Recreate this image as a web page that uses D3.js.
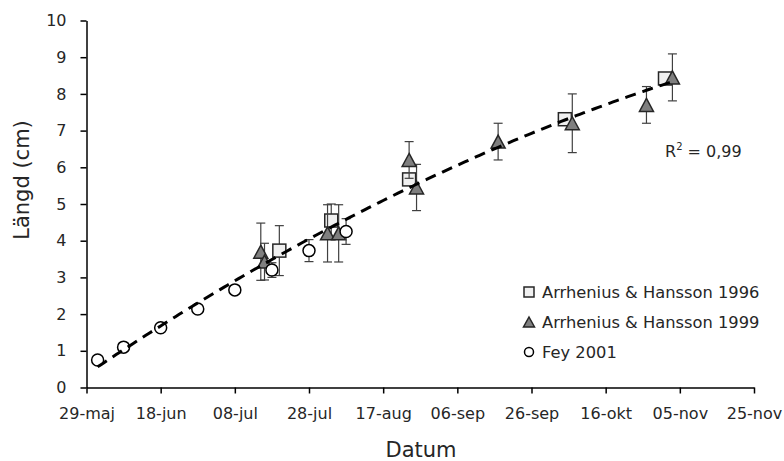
<!DOCTYPE html>
<html>
<head>
<meta charset="utf-8">
<script src="https://cdn.jsdelivr.net/npm/d3@7"></script>
<style>
    body { margin: 0; background: #fff; }
    svg { display: block; font-family: 'DejaVu Sans', sans-serif; }
    .tick text { font-family: 'DejaVu Sans', sans-serif; font-size: 16px; fill: #262626; }
    .axis-title { font-size: 21px; fill: #262626; }
    .legend text { font-size: 16.3px; fill: #262626; }
</style>
</head>
<body>
<svg id="chart"></svg>
<script>
var monthNames = ['jan', 'feb', 'mar', 'apr', 'maj', 'jun', 'jul', 'aug', 'sep', 'okt', 'nov', 'dec'];
var xTicks = ['2001-05-29', '2001-06-18', '2001-07-08', '2001-07-28', '2001-08-17', '2001-09-06', '2001-09-26', '2001-10-16', '2001-11-05', '2001-11-25'];
var yTicks = [0, 1, 2, 3, 4, 5, 6, 7, 8, 9, 10];

// Arrhenius & Hansson 1996
var ah96Dates = ['2001-07-20', '2001-08-03', '2001-08-24', '2001-10-05', '2001-11-01'];
var ah96Values = [3.73, 4.55, 5.67, 7.31, 8.42];
var ah96Errors = [0.68, 0.45, 0, 0, 0];

// Arrhenius & Hansson 1999
var ah99Dates = ['2001-07-15', '2001-07-16', '2001-08-02', '2001-08-05', '2001-08-24', '2001-08-26', '2001-09-17', '2001-10-07', '2001-10-27', '2001-11-03'];
var ah99Values = [3.7, 3.43, 4.2, 4.2, 6.2, 5.45, 6.7, 7.2, 7.7, 8.45];
var ah99Errors = [0.78, 0.5, 0.78, 0.78, 0.5, 0.63, 0.5, 0.8, 0.5, 0.64];

// Fey 2001
var feyDates = ['2001-06-01', '2001-06-08', '2001-06-18', '2001-06-28', '2001-07-08', '2001-07-18', '2001-07-28', '2001-08-07'];
var feyValues = [0.75, 1.1, 1.63, 2.14, 2.66, 3.2, 3.73, 4.25];
var feyErrors = [0, 0, 0, 0, 0, 0.2, 0.3, 0.35];

(function (d3) {
    'use strict';

    var width = 784, height = 461;
    var margin = { top: 20.5, right: 30, bottom: 73.5, left: 86.5 };

    var parseDate = d3.utcParse('%Y-%m-%d');
    var formatTick = function (d) {
        return d3.utcFormat('%d')(d) + '-' + monthNames[d.getUTCMonth()];
    };

    var tickDates = xTicks.map(parseDate);

    var x = d3.scaleUtc()
        .domain([tickDates[0], tickDates[tickDates.length - 1]])
        .range([margin.left, width - margin.right]);
    var y = d3.scaleLinear()
        .domain([0, 10])
        .range([height - margin.bottom, margin.top]);

    function build(dates, values, errors) {
        return dates.map(function (d, i) {
            return { date: parseDate(d), value: values[i], err: errors[i] };
        });
    }

    var series = [
        { name: 'Arrhenius & Hansson 1996', shape: 'square', data: build(ah96Dates, ah96Values, ah96Errors) },
        { name: 'Arrhenius & Hansson 1999', shape: 'triangle', data: build(ah99Dates, ah99Values, ah99Errors) },
        { name: 'Fey 2001', shape: 'circle', data: build(feyDates, feyValues, feyErrors) }
    ];

    var svg = d3.select('#chart')
        .attr('width', width)
        .attr('height', height);

    function styleAxis(g) {
        g.attr('font-family', null).attr('font-size', null);
        g.select('.domain').attr('stroke', '#000').attr('stroke-width', 1.5);
        g.selectAll('.tick line').attr('stroke', '#000').attr('stroke-width', 1.5);
    }

    // axes
    svg.append('g')
        .attr('transform', 'translate(0,' + y(0) + ')')
        .call(d3.axisBottom(x).tickValues(tickDates).tickFormat(formatTick).tickSize(6).tickPadding(14).tickSizeOuter(0))
        .call(styleAxis);

    svg.append('g')
        .attr('transform', 'translate(' + x(tickDates[0]) + ',0)')
        .call(d3.axisLeft(y).tickValues(yTicks).tickSize(6).tickPadding(14).tickSizeOuter(0))
        .call(styleAxis);

    svg.append('text')
        .attr('class', 'axis-title')
        .attr('x', 421)
        .attr('y', 457)
        .attr('text-anchor', 'middle')
        .text('Datum');

    svg.append('text')
        .attr('class', 'axis-title')
        .attr('transform', 'translate(29,' + 180 + ') rotate(-90)')
        .attr('text-anchor', 'middle')
        .text('Längd (cm)');

    function drawMarker(sel, shape, size) {
        var h = size / 2;
        if (shape === 'square') {
            sel.append('rect')
                .attr('x', -h).attr('y', -h)
                .attr('width', size).attr('height', size)
                .attr('fill', '#f0f0f0')
                .attr('stroke', '#262626')
                .attr('stroke-width', 1.5);
        } else if (shape === 'triangle') {
            sel.append('path')
                .attr('d', 'M0,' + (-h) + 'L' + (h + 0.5) + ',' + h + 'L' + (-h - 0.5) + ',' + h + 'Z')
                .attr('fill', '#7f7f7f')
                .attr('stroke', '#262626')
                .attr('stroke-width', 1.5)
                .attr('stroke-linejoin', 'miter');
        } else {
            sel.append('circle')
                .attr('r', h)
                .attr('fill', '#fff')
                .attr('stroke', '#000')
                .attr('stroke-width', 1.5);
        }
    }

    var plot = svg.append('g');

    series.forEach(function (s) {
        var g = plot.append('g');
        var withErr = s.data.filter(function (d) { return d.err > 0; });

        var bars = g.selectAll('.err')
            .data(withErr)
            .enter()
            .append('g')
            .attr('class', 'err')
            .attr('stroke', '#404040')
            .attr('stroke-width', 1.2);
        bars.append('line')
            .attr('x1', function (d) { return x(d.date); })
            .attr('x2', function (d) { return x(d.date); })
            .attr('y1', function (d) { return y(d.value + d.err); })
            .attr('y2', function (d) { return y(d.value - d.err); });
        [1, -1].forEach(function (sign) {
            bars.append('line')
                .attr('x1', function (d) { return x(d.date) - 4.5; })
                .attr('x2', function (d) { return x(d.date) + 4.5; })
                .attr('y1', function (d) { return y(d.value + sign * d.err); })
                .attr('y2', function (d) { return y(d.value + sign * d.err); });
        });

        g.selectAll('.pt')
            .data(s.data)
            .enter()
            .append('g')
            .attr('class', 'pt')
            .attr('transform', function (d) { return 'translate(' + x(d.date) + ',' + y(d.value) + ')'; })
            .each(function () { drawMarker(d3.select(this), s.shape, s.shape === 'circle' ? 12 : 13); });
    });

    // quadratic trend line fitted over all points (least squares)
    var all = [];
    series.forEach(function (s) { all = all.concat(s.data); });
    var t0 = tickDates[0];
    var dayOf = function (d) { return (d - t0) / 864e5; };
    var S = [0, 0, 0, 0, 0], T = [0, 0, 0];
    all.forEach(function (d) {
        var t = dayOf(d.date);
        for (var k = 0; k < 5; k++) S[k] += Math.pow(t, k);
        for (var j = 0; j < 3; j++) T[j] += d.value * Math.pow(t, j);
    });
    var M = [[S[0], S[1], S[2], T[0]], [S[1], S[2], S[3], T[1]], [S[2], S[3], S[4], T[2]]];
    for (var i = 0; i < 3; i++) {
        for (var r = i + 1; r < 3; r++) {
            var f = M[r][i] / M[i][i];
            for (var c = i; c < 4; c++) M[r][c] -= f * M[i][c];
        }
    }
    var coef = [0, 0, 0];
    for (var i2 = 2; i2 >= 0; i2--) {
        var sum = M[i2][3];
        for (var c2 = i2 + 1; c2 < 3; c2++) sum -= M[i2][c2] * coef[c2];
        coef[i2] = sum / M[i2][i2];
    }
    var tMin = d3.min(all, function (d) { return dayOf(d.date); });
    var tMax = d3.max(all, function (d) { return dayOf(d.date); });
    var trend = d3.range(tMin, tMax + 0.01, 1).map(function (t) {
        return [t, coef[0] + coef[1] * t + coef[2] * t * t];
    });

    plot.append('path')
        .datum(trend)
        .attr('fill', 'none')
        .attr('stroke', '#000')
        .attr('stroke-width', 3)
        .attr('stroke-dasharray', '11,7')
        .attr('d', d3.line()
            .x(function (d) { return x(new Date(+t0 + d[0] * 864e5)); })
            .y(function (d) { return y(d[1]); }));

    var r2Text = svg.append('text')
        .attr('x', 665)
        .attr('y', 157)
        .attr('font-size', 16)
        .attr('fill', '#262626');
    r2Text.append('tspan').text('R');
    r2Text.append('tspan').attr('font-size', 10).attr('dy', -7).text('2');
    r2Text.append('tspan').attr('dy', 7).text(' = 0,99');

    // legend
    var legend = svg.selectAll('.legend')
        .data(series)
        .enter()
        .append('g')
        .attr('class', 'legend')
        .attr('transform', function (d, i) { return 'translate(529,' + (292 + i * 30) + ')'; });

    legend.each(function (d) { drawMarker(d3.select(this), d.shape, d.shape === 'circle' ? 9 : 10); });

    legend.append('text')
        .attr('x', 13)
        .attr('y', 6)
        .text(function (d) { return d.name; });
})(window.d3);
</script>
</body>
</html>
